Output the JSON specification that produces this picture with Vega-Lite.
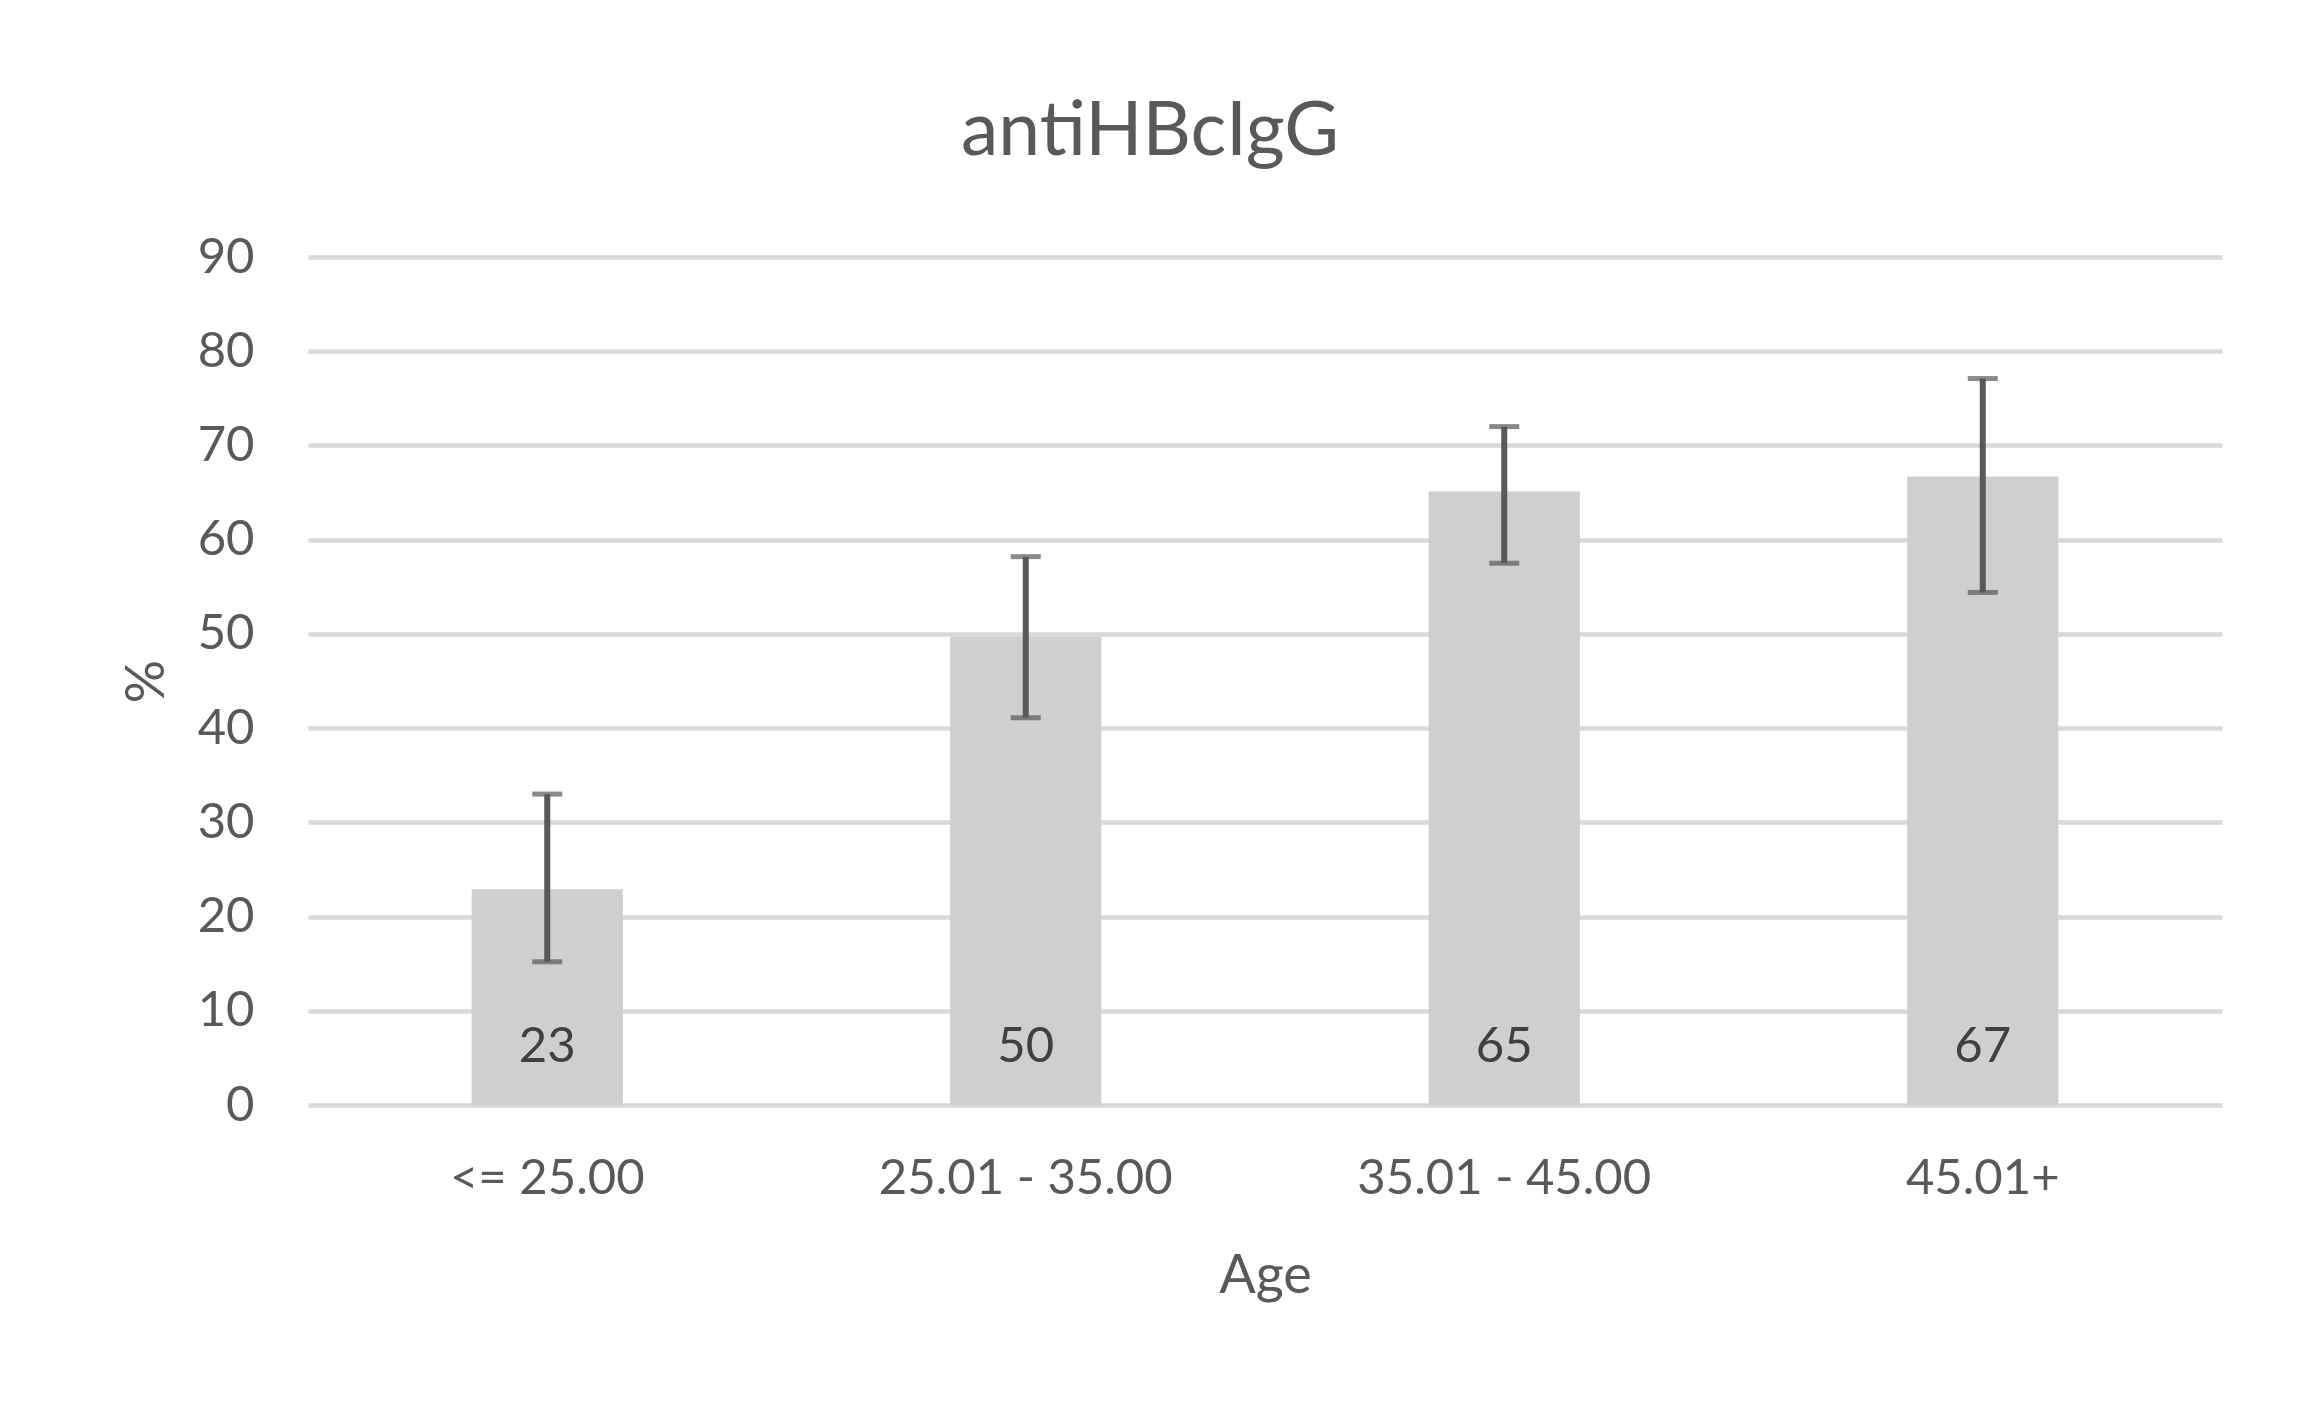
{
  "$schema": "https://vega.github.io/schema/vega-lite/v6.json",
  "width": 1914,
  "height": 848,
  "autosize": {"type": "none"},
  "padding": {"left": 308, "top": 257, "right": 97, "bottom": 305},
  "background": "white",
  "title": {
    "text": "antiHBcIgG",
    "font": "Lato",
    "fontSize": 75,
    "fontWeight": "normal",
    "color": "#595959",
    "anchor": "middle",
    "frame": "group",
    "baseline": "alphabetic",
    "offset": 3,
    "dx": -115
  },
  "config": {
    "view": {"stroke": null},
    "font": "Lato"
  },
  "data": {
    "values": [
      {"age": "<= 25.00", "pct": 22.9, "lo": 15.2, "hi": 33.0, "label": "23"},
      {"age": "25.01 - 35.00", "pct": 49.7, "lo": 41.1, "hi": 58.2, "label": "50"},
      {"age": "35.01 - 45.00", "pct": 65.1, "lo": 57.5, "hi": 72.0, "label": "65"},
      {"age": "45.01+", "pct": 66.7, "lo": 54.4, "hi": 77.1, "label": "67"}
    ]
  },
  "encoding": {
    "x": {
      "field": "age",
      "type": "nominal",
      "sort": null,
      "scale": {"paddingInner": 0.684, "paddingOuter": 0.342},
      "axis": {
        "title": "Age",
        "titleFont": "Lato",
        "titleFontSize": 54,
        "titleFontWeight": "normal",
        "titleColor": "#595959",
        "titleBaseline": "alphabetic",
        "titleY": 187,
        "labelAngle": 0,
        "labelLimit": 0,
        "labelFont": "Lato",
        "labelFontSize": 49,
        "labelColor": "#595959",
        "labelPadding": 49,
        "ticks": false,
        "domain": false,
        "grid": false
      }
    }
  },
  "layer": [
    {
      "mark": {"type": "bar", "color": "#d0cece"},
      "encoding": {
        "y": {
          "field": "pct",
          "type": "quantitative",
          "scale": {"domain": [0, 90], "nice": false},
          "axis": {
            "title": "%",
            "titleFont": "Lato",
            "titleFontSize": 54,
            "titleFontWeight": "normal",
            "titleColor": "#595959",
            "titleAngle": -90,
            "titleBaseline": "alphabetic",
            "titleAlign": "center",
            "titleX": -145,
            "titleY": 424,
            "values": [0, 10, 20, 30, 40, 50, 60, 70, 80, 90],
            "labelFont": "Lato",
            "labelFontSize": 49,
            "labelColor": "#595959",
            "labelPadding": 54,
            "ticks": false,
            "domain": false,
            "grid": true,
            "gridColor": "#d9d9d9",
            "gridWidth": 4.3,
            "zindex": 0
          }
        }
      }
    },
    {
      "mark": {"type": "rule", "color": "#595959", "strokeWidth": 6},
      "encoding": {
        "y": {"field": "lo", "type": "quantitative"},
        "y2": {"field": "hi"}
      }
    },
    {
      "mark": {"type": "tick", "color": "#595959", "size": 30, "thickness": 5, "orient": "horizontal"},
      "encoding": {
        "y": {"field": "lo", "type": "quantitative"}
      }
    },
    {
      "mark": {"type": "tick", "color": "#595959", "size": 30, "thickness": 5, "orient": "horizontal"},
      "encoding": {
        "y": {"field": "hi", "type": "quantitative"}
      }
    },
    {
      "mark": {"type": "text", "color": "#404040", "font": "Lato", "fontSize": 49, "baseline": "alphabetic", "dy": -43},
      "encoding": {
        "y": {"datum": 0, "type": "quantitative"},
        "text": {"field": "label"}
      }
    }
  ]
}
